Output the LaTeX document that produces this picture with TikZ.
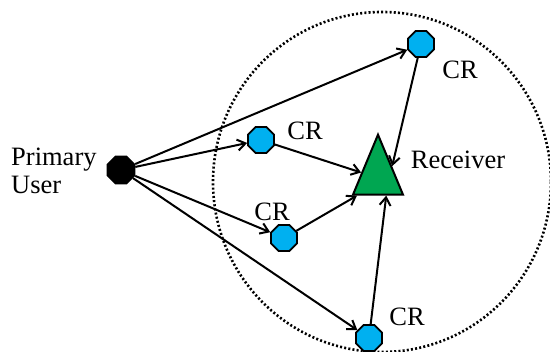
\documentclass[tikz,border=0pt]{standalone}
\usepackage{fontspec}
\setmainfont{Liberation Serif}
\usetikzlibrary{shapes.geometric,arrows.meta,calc}
\definecolor{crblue}{HTML}{00B0F0}
\definecolor{rxgreen}{HTML}{00A651}
\begin{document}
\begin{tikzpicture}[x=1pt,y=-1pt,
  crnode/.style={regular polygon, regular polygon sides=8, minimum size=28pt,
    inner sep=0pt, fill=crblue, draw=black, line width=1.8pt},
  punode/.style={regular polygon, regular polygon sides=8, minimum size=29pt,
    inner sep=0pt, fill=black, draw=black, line width=1.8pt},
  rxnode/.style={isosceles triangle, isosceles triangle stretches,
    shape border rotate=90, minimum width=50pt, minimum height=60pt,
    inner sep=0pt, fill=rxgreen, draw=black, line width=2pt},
  lbl/.style={font=\fontsize{26.5}{28}\selectfont, inner sep=0pt},
  link/.style={-{Straight Barb[length=8pt,width=11pt,line width=2pt]}, line width=2pt},
  coverage/.style={line width=2.6pt, dash pattern=on 2pt off 2.2pt},
]
\useasboundingbox (0,0) rectangle (550,352);

% coverage area of the cognitive radios
\draw[coverage] (382,182) ellipse (169 and 170);

% primary user, cognitive radios and receiver
\node[punode] (pu) at (121,170) {};
\node[crnode] (cr1) at (421,44) {};
\node[crnode] (cr2) at (261,140) {};
\node[crnode] (cr3) at (284,238) {};
\node[crnode] (cr4) at (369,338) {};
\node[rxnode] (rx) at (378,178) {};

% labels
\node[lbl, anchor=west, align=left] (pulbl) at (11,171) {Primary\\User};
\node[lbl] (l1) at (460,70) {CR};
\node[lbl] (l2) at (305,131) {CR};
\node[lbl] (l3) at (272,212) {CR};
\node[lbl] (l4) at (407,317) {CR};
\node[lbl] (lrx) at (458,160) {Receiver};

% primary user to each cognitive radio
\draw[link] (pu) -- (cr1);
\draw[link] (pu) -- (cr2);
\draw[link] (pu) -- (cr3);
\draw[link] (pu) -- (cr4);

% cognitive radios report to the receiver
\draw[link] (cr1) -- (rx.40);
\draw[link] (cr2) -- (rx);
\draw[link] (cr3) -- (rx.220);
\draw[link] (cr4) -- (rx.295);
\end{tikzpicture}
\end{document}
